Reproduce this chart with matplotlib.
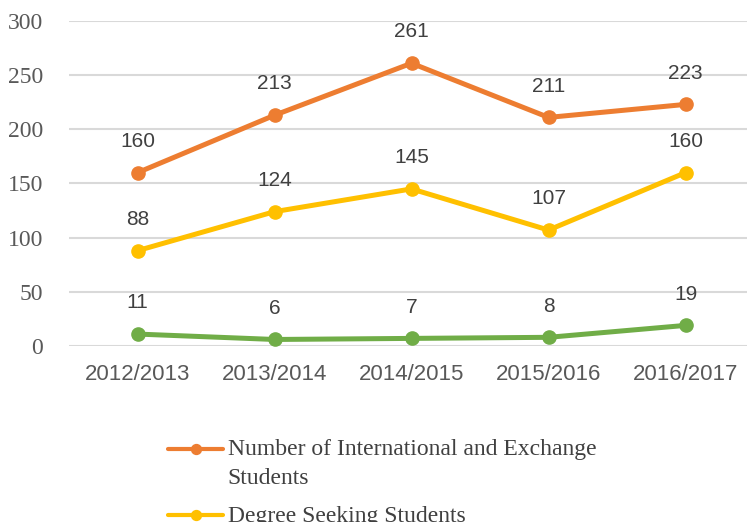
import matplotlib
matplotlib.use('Agg')
import matplotlib.pyplot as plt
from matplotlib.offsetbox import HPacker

years = ['2012/2013', '2013/2014', '2014/2015', '2015/2016', '2016/2017']
intl_exchange = [160, 213, 261, 211, 223]
degree_seeking = [88, 124, 145, 107, 160]
exchange_only = [11, 6, 7, 8, 19]

series = [
    ('Number of International and Exchange\nStudents', intl_exchange, '#ED7D31'),
    ('Degree Seeking Students', degree_seeking, '#FFC000'),
    ('Exchange Students', exchange_only, '#70AD47'),
]

fig = plt.figure(figsize=(7.47, 5.22), dpi=100)
ax = fig.add_axes([0.0924, 0.3372, 0.917, 0.6226])

x = list(range(len(years)))
handles = []
for label, vals, col in series:
    ln, = ax.plot(x, vals, color=col, lw=3.6, marker='o', ms=9.5, label=label,
                  solid_capstyle='round')
    handles.append(ln)
    for xi, v in zip(x, vals):
        ax.annotate(str(v), (xi, v), xytext=(0, 22.5), textcoords='offset points',
                    ha='center', va='center', fontsize=15, color='#404040',
                    family='Liberation Sans')

ax.set_xlim(-0.5, 4.5)
ax.set_ylim(0, 300)
ax.set_yticks(range(0, 301, 50))
ax.set_xticks(x)
ax.set_xticklabels(years, family='Liberation Sans', fontsize=16, color='#595959')
for t in ax.get_yticklabels():
    t.set_family('Liberation Serif')
    t.set_fontsize(17)
    t.set_color('#595959')
ax.tick_params(length=0)
ax.tick_params(axis='y', pad=18.5)
ax.tick_params(axis='x', pad=13)
ax.grid(axis='y', color='#d9d9d9', lw=1.5)
ax.set_axisbelow(True)
for s in ax.spines.values():
    s.set_visible(False)

leg = fig.legend(handles=handles, loc='upper left', bbox_to_anchor=(0.2249, 0.159),
                 frameon=False, handlelength=2.35, handleheight=1.05,
                 handletextpad=0.17, labelspacing=0.7, borderpad=0,
                 borderaxespad=0, markerscale=0.75,
                 prop={'family': 'Liberation Serif', 'size': 17})
# put the line marker next to the first text line, like the original
for hp in leg.findobj(HPacker):
    hp.align = 'top'
for t in leg.get_texts():
    t.set_color('#404040')
    t.set_linespacing(1.5)
for h in leg.legend_handles:
    h.set_linewidth(3)

fig.savefig('out.png', dpi=100)
